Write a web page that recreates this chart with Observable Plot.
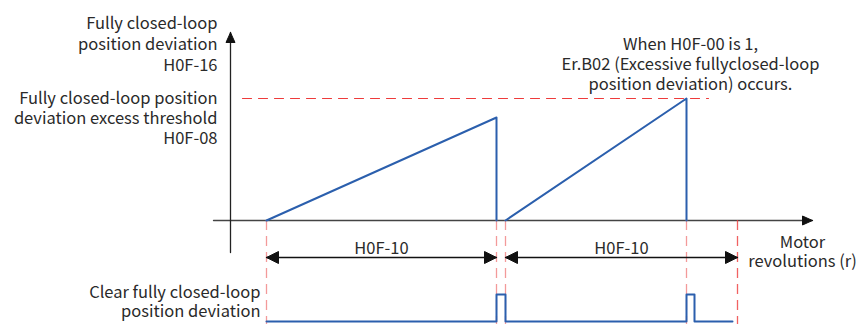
<!DOCTYPE html>
<html><head><meta charset="utf-8">
<script src="https://cdn.jsdelivr.net/npm/d3@7"></script>
<script src="https://cdn.jsdelivr.net/npm/@observablehq/plot@0.6"></script>
<style>body{margin:0;background:#fff}</style>
</head><body><div id="chart"></div>
<script>
// Deviation ramps (x = motor revolutions, y = deviation, arbitrary units)
const ramp1X = [3.6, 26.6, 26.6];
const ramp1Y = [0, 10.3, 0];
const ramp2X = [27.5, 45.6, 45.6];
const ramp2Y = [0, 12.2, 0];
const threshold = 12.2;
const thresholdSpan = [1.2, 47.8];
// Clear signal (pulses)
const clearX = [3.6, 26.6, 26.6, 27.5, 27.5, 45.6, 45.6, 46.4, 46.4, 50.2];
const clearY = [-10.1, -10.1, -7.4, -7.4, -10.1, -10.1, -7.4, -7.4, -10.1, -10.1];
// Event marks (vertical dashed)
const eventX = [3.6, 26.6, 27.5, 45.6];
const windowEndX = [50.7];
// Axes extents
const xAxisSpan = [-1.7, 58.2];
const yAxisSpan = [-3.2, 18.8];
// Dimension arrows (H0F-10)
const dimSpans = [[3.6, 26.6], [27.5, 50.7]];
const dimLevel = -3.7;
const dimLabels = ["H0F-10", "H0F-10"];

const red = "#ee3b3b", pink = "#f39a9a", blue = "#2b5fad", ink = "#2a2a2a";
const font = "Noto Sans CJK SC";

function head(tx, ty, dx, dy, len, half, id) {
  const bx = tx - dx * len, by = ty - dy * len;
  const px = -dy * half, py = dx * half;
  return [
    {id, x: tx, y: ty}, {id, x: bx + px, y: by + py},
    {id, x: bx - px, y: by - py}, {id, x: tx, y: ty}
  ];
}
const heads = [
  ...head(xAxisSpan[1], 0, 1, 0, 1.0, 0.45, "hx"),
  ...head(0, yAxisSpan[1], 0, 1, 1.0, 0.45, "hy"),
];
dimSpans.forEach(([a, b], i) => {
  heads.push(...head(a, dimLevel, -1, 0, 1.2, 0.6, "dl" + i));
  heads.push(...head(b, dimLevel, 1, 0, 1.2, 0.6, "dr" + i));
});

const pts = (xs, ys) => xs.map((x, i) => ({x, y: ys[i]}));
const vlines = (xs) => xs.map(x => ({x, y1: 0, y2: -10.4}));

const chart = Plot.plot({
  width: 859, height: 324,
  margin: 0,
  x: {domain: [-23, 62.9], range: [0, 859], axis: null},
  y: {domain: [-10.4, 22], range: [324, 0], axis: null},
  style: {fontFamily: font, fontSize: "16.5px", background: "#fff", color: ink},
  marks: [
    // axes
    Plot.line(pts(xAxisSpan, [0, 0]), {x: "x", y: "y", stroke: "#444", strokeWidth: 1.3}),
    Plot.line(pts([0, 0], yAxisSpan), {x: "x", y: "y", stroke: "#222", strokeWidth: 1.3}),
    // vertical dashed markers
    Plot.ruleX(vlines(eventX), {x: "x", y1: "y1", y2: "y2", stroke: pink, strokeWidth: 1.3, strokeDasharray: "10,6"}),
    Plot.ruleX(vlines(windowEndX), {x: "x", y1: "y1", y2: "y2", stroke: red, strokeOpacity: 0.8, strokeWidth: 1.3, strokeDasharray: "10,6"}),
    // threshold
    Plot.line(pts(thresholdSpan, [threshold, threshold]), {x: "x", y: "y", stroke: red, strokeWidth: 1.2, strokeDasharray: "9,7"}),
    // ramps
    Plot.line(pts(ramp1X, ramp1Y), {x: "x", y: "y", stroke: blue, strokeWidth: 2}),
    Plot.line(pts(ramp2X, ramp2Y), {x: "x", y: "y", stroke: blue, strokeWidth: 2}),
    // clear signal
    Plot.line(pts(clearX, clearY), {x: "x", y: "y", stroke: blue, strokeWidth: 2}),
    // dimension shafts
    Plot.line(dimSpans.flatMap(([a, b], i) => [{id: i, x: a, y: dimLevel}, {id: i, x: b, y: dimLevel}]),
      {x: "x", y: "y", z: "id", stroke: "#111", strokeWidth: 1.3}),
    // arrowheads
    Plot.line(heads, {x: "x", y: "y", z: "id", fill: "#111", stroke: "#111", strokeWidth: 1}),
    // labels
    Plot.text(dimLabels.map((t, i) => ({t, x: (dimSpans[i][0] + dimSpans[i][1]) / 2, y: dimLevel})),
      {x: "x", y: "y", text: "t", dy: -9, fill: ink}),
    Plot.text(["Fully closed-loop\nposition deviation\nH0F-16"], {x: -1.3, y: 17.7, text: d => d, textAnchor: "end", lineHeight: 1.25, fill: ink}),
    Plot.text(["Fully closed-loop position\ndeviation excess threshold\nH0F-08"], {x: -1.3, y: 10.3, text: d => d, textAnchor: "end", lineHeight: 1.21, fill: ink}),
    Plot.text(["When H0F-00 is 1,\nEr.B02 (Excessive fullyclosed-loop\nposition deviation) occurs."], {x: 46, y: 15.7, text: d => d, lineHeight: 1.21, fill: ink}),
    Plot.text(["Motor\nrevolutions (r)"], {x: 57.2, y: -3.1, text: d => d, lineHeight: 1.18, fill: ink}),
    Plot.text(["Clear fully closed-loop\nposition deviation"], {x: 3.0, y: -8.1, text: d => d, textAnchor: "end", lineHeight: 1.16, fill: ink})
  ]
});
document.getElementById("chart").appendChild(chart);
</script>
</body></html>
